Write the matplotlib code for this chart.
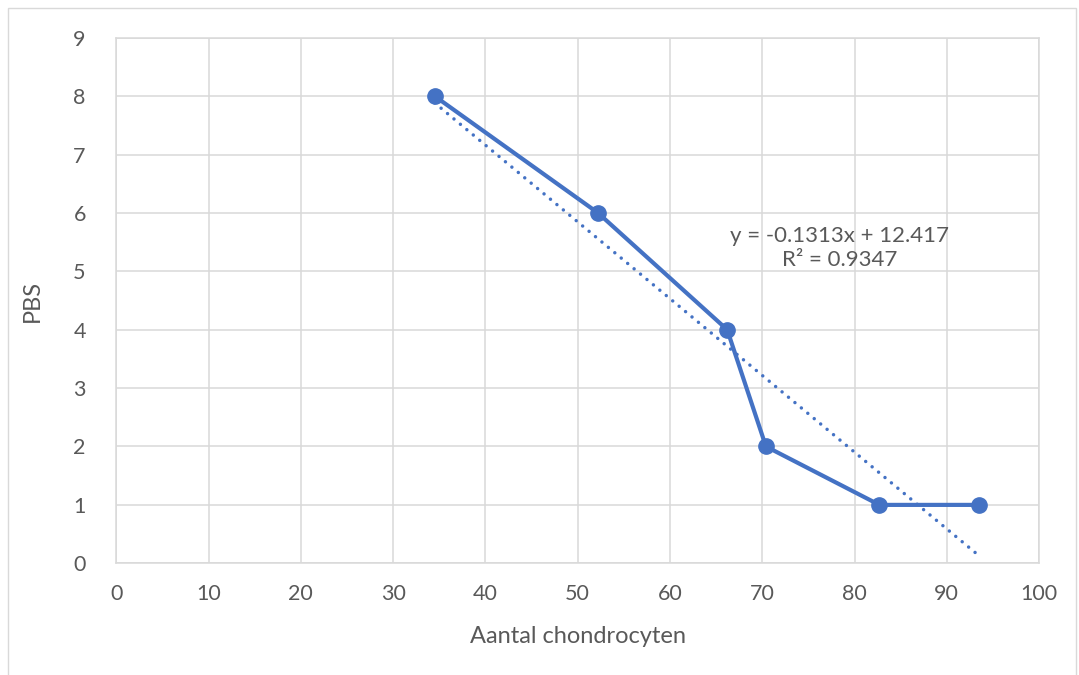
import matplotlib; matplotlib.use("Agg")
import matplotlib.pyplot as plt
import numpy as np
from matplotlib.patches import Rectangle

BLUE = "#4472C4"; GRID = "#D9D9D9"; TXT = "#595959"

plt.rcParams.update({
    "font.family": ["Lato", "DejaVu Sans"],
    "font.size": 15.5, "text.color": TXT,
    "xtick.color": TXT, "ytick.color": TXT, "axes.labelcolor": TXT,
})

# Aantal chondrocyten vs PBS
chondro = [34.5, 52.2, 66.2, 70.4, 82.7, 93.5]
pbs = [8, 6, 4, 2, 1, 1]
eq_text = "y = -0.1313x + 12.417\nR² = 0.9347"

fig = plt.figure(figsize=(10.79, 6.75), dpi=100)
ax = fig.add_axes([0.1078, 0.1655, 0.8552, 0.7786])

# linear trendline
k, b = np.polyfit(chondro, pbs, 1)
tx = np.array([min(chondro), max(chondro)])
ax.plot(tx, k * tx + b, color=BLUE, lw=2.5, ls=(0, (0.01, 2.4)),
        dash_capstyle="round", zorder=2)
ax.plot(chondro, pbs, color=BLUE, lw=3.0, marker="o", ms=11, zorder=3)

ax.text(78.4, 5.40, eq_text, ha="center", va="center",
        multialignment="center", fontsize=16, color=TXT, linespacing=1.25)

ax.set_xlim(0, 100)
ax.set_ylim(0, 9)
ax.set_xticks(range(0, 101, 10))
ax.set_yticks(range(0, 10))
ax.grid(True, color=GRID, lw=1.1)
ax.set_axisbelow(True)
for sp in ax.spines.values():
    sp.set_color(GRID); sp.set_linewidth(1.1)
ax.tick_params(length=0)
ax.tick_params(axis="x", pad=15)
ax.tick_params(axis="y", pad=22)
ax.set_xlabel("Aantal chondrocyten", fontsize=17, labelpad=16)
ax.set_ylabel("PBS", fontsize=17, labelpad=22)

fig.patches.append(Rectangle((0.007, -0.01), 0.99, 0.998, transform=fig.transFigure,
                             fill=False, edgecolor=GRID, lw=1))
fig.savefig("out.png", dpi=100)
